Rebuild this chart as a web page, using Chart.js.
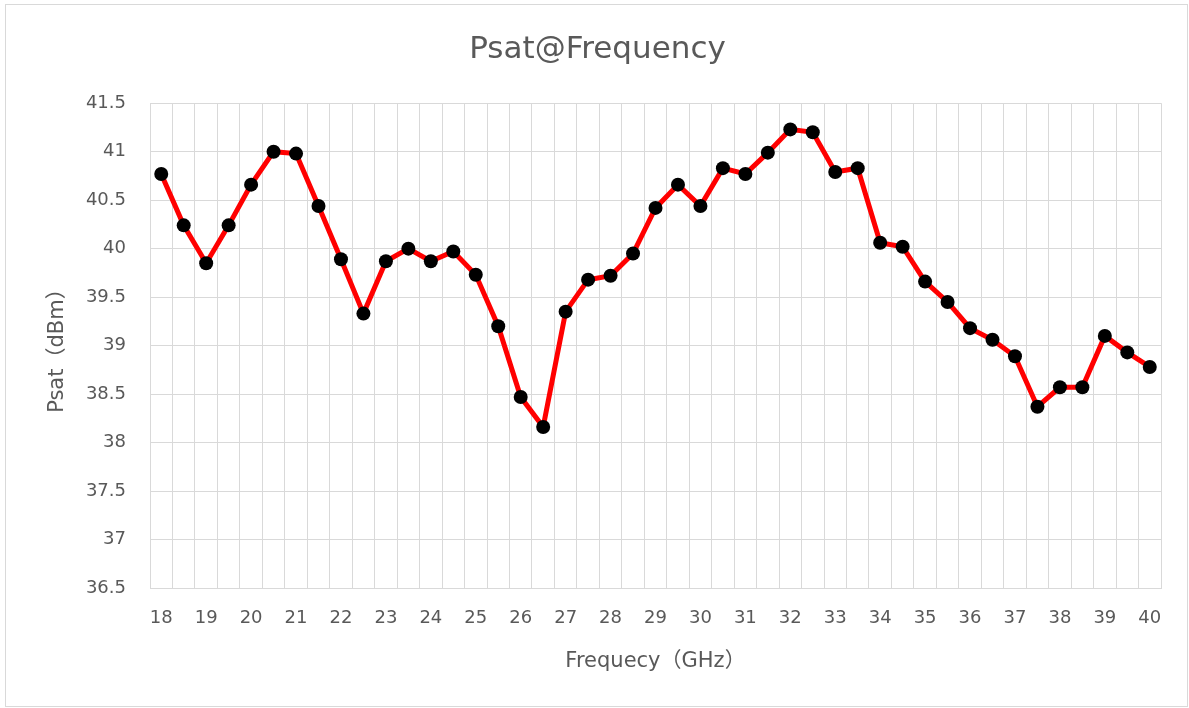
<!DOCTYPE html>
<html>
<head>
<meta charset="utf-8">
<script src="https://cdn.jsdelivr.net/npm/chart.js@4/dist/chart.umd.min.js"></script>
<style>
  body { margin: 0; background: #fff; }
  #wrap { position: relative; width: 1189px; height: 708px; }
  #frame { position: absolute; left: 5px; top: 4px; width: 1181px; height: 701px; border: 1px solid #d9d9d9; pointer-events: none; }
</style>
</head>
<body>
<div id="wrap">
  <canvas id="psatChart" width="1189" height="708"></canvas>
  <div id="frame"></div>
</div>
<script>
// Frecuencias (GHz) y potencia de saturación (dBm)
const freqs = [18, 18.5, 19, 19.5, 20, 20.5, 21, 21.5, 22, 22.5, 23, 23.5, 24, 24.5, 25, 25.5,
  26, 26.5, 27, 27.5, 28, 28.5, 29, 29.5, 30, 30.5, 31, 31.5, 32, 32.5, 33, 33.5,
  34, 34.5, 35, 35.5, 36, 36.5, 37, 37.5, 38, 38.5, 39, 39.5, 40];
const psat = [40.77, 40.24, 39.85, 40.24, 40.66, 41.0, 40.98, 40.44, 39.89, 39.33, 39.87, 40.0,
  39.87, 39.97, 39.73, 39.2, 38.47, 38.16, 39.35, 39.68, 39.72, 39.95, 40.42, 40.66,
  40.44, 40.83, 40.77, 40.99, 41.23, 41.2, 40.79, 40.83, 40.06, 40.02, 39.66, 39.45,
  39.18, 39.06, 38.89, 38.37, 38.57, 38.57, 39.1, 38.93, 38.78];
const yMin = 36.5;
const yMax = 41.5;
const yStep = 0.5;

const textColor = '#595959';
const gridColor = '#d9d9d9';
const fontFamily = "'DejaVu Sans', 'Noto Sans CJK SC', sans-serif";

new Chart(document.getElementById('psatChart'), {
    type: 'line',
    data: {
        labels: freqs,
        datasets: [{
            label: 'Psat',
            data: psat,
            borderColor: '#ff0000',
            borderWidth: 5,
            tension: 0,
            pointRadius: 7,
            pointBackgroundColor: '#000000',
            pointBorderColor: '#000000',
            pointBorderWidth: 0,
        }],
    },
    options: {
        responsive: false,
        animation: false,
        // padding desigual para centrar el título en el marco
        layout: { padding: { left: 22, right: 16, top: 0, bottom: 20 } },
        plugins: {
            legend: { display: false },
            tooltip: { enabled: false },
            title: {
                display: true,
                text: 'Psat@Frequency',
                color: textColor,
                font: { family: fontFamily, size: 31, weight: 'normal' },
                padding: { top: 31, bottom: 35 },
            },
        },
        scales: {
            x: {
                offset: true,
                grid: { offset: true, color: gridColor, drawTicks: false },
                border: { color: gridColor },
                ticks: {
                    autoSkip: false,
                    maxRotation: 0,
                    color: textColor,
                    padding: 20,
                    font: { family: fontFamily, size: 18 },
                    callback: (v, i) => Number.isInteger(freqs[i]) ? String(freqs[i]) : '',
                },
                title: {
                    display: true,
                    text: 'Frequecy（GHz）',
                    color: textColor,
                    font: { family: fontFamily, size: 21 },
                    padding: { top: 0, bottom: 14 },
                },
                afterFit: (scale) => { scale.height = 100; },
            },
            y: {
                min: yMin,
                max: yMax,
                grid: { color: gridColor, drawTicks: false },
                border: { color: gridColor },
                ticks: {
                    stepSize: yStep,
                    color: textColor,
                    padding: 24,
                    font: { family: fontFamily, size: 18 },
                    callback: (v) => String(v),
                },
                title: {
                    display: true,
                    text: 'Psat（dBm）',
                    color: textColor,
                    font: { family: fontFamily, size: 21 },
                    padding: { top: 23, bottom: 0 },
                },
                afterFit: (scale) => { scale.width = 128; },
            },
            // eje vacío a la derecha, solo reserva espacio
            yRight: {
                position: 'right',
                min: yMin,
                max: yMax,
                grid: { drawOnChartArea: false, drawTicks: false },
                border: { display: false },
                ticks: { display: false },
                afterFit: (scale) => { scale.width = 12; },
            },
        },
    },
});
</script>
</body>
</html>
